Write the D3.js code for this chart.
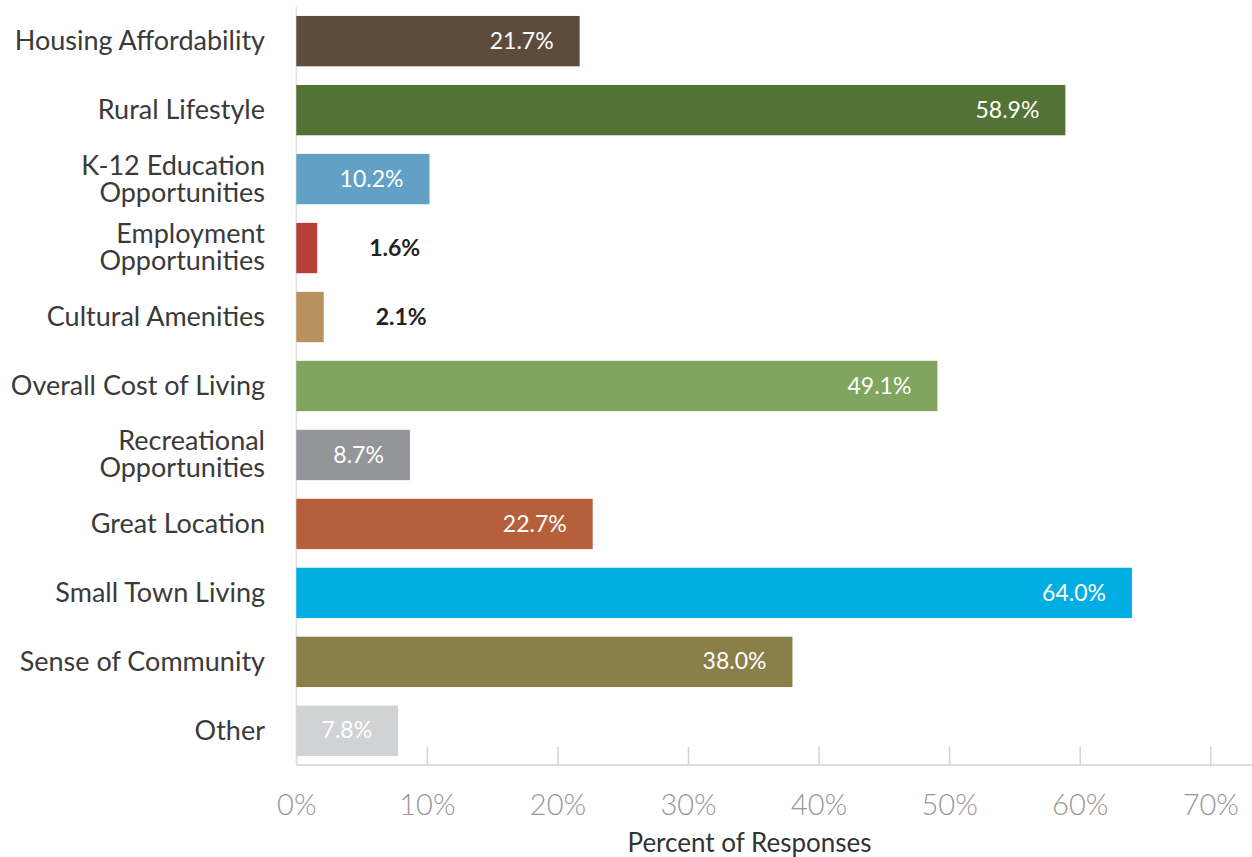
<!DOCTYPE html>
<html>
<head>
<meta charset="utf-8">
<script src="https://cdn.jsdelivr.net/npm/d3@7"></script>
<style>
  html, body { margin: 0; padding: 0; background: #fff; }
  svg { display: block; }
</style>
</head>
<body>
<svg id="chart" width="1252" height="857"></svg>
<script>
const categories = [
  ["Housing Affordability"],
  ["Rural Lifestyle"],
  ["K-12 Education", "Opportunities"],
  ["Employment", "Opportunities"],
  ["Cultural Amenities"],
  ["Overall Cost of Living"],
  ["Recreational", "Opportunities"],
  ["Great Location"],
  ["Small Town Living"],
  ["Sense of Community"],
  ["Other"]
];
const values = [21.7, 58.9, 10.2, 1.6, 2.1, 49.1, 8.7, 22.7, 64.0, 38.0, 7.8];
const colors = ["#5d4b3c", "#527236", "#62a1c5", "#b73f36", "#b8925e", "#7fa55e", "#939598", "#b5603b", "#00aee3", "#8a7f48", "#d1d2d4"];
const xTicks = [0, 10, 20, 30, 40, 50, 60, 70];
const axisTitle = "Percent of Responses";

const svg = d3.select("#chart");
const ids = categories.map((c, i) => i);

const x = d3.scaleLinear().domain([0, 70]).range([296.3, 1210.3]);
const y = d3.scaleBand().domain(ids).range([7, 765]).paddingInner(0.27).paddingOuter(0.13);

const gridColor = "#d6d2d2";

// x axis line
svg.append("line")
  .attr("x1", x(0)).attr("x2", 1252)
  .attr("y1", 765).attr("y2", 765)
  .attr("stroke", gridColor).attr("stroke-width", 1.5);

// ticks
const xAxis = d3.axisBottom(x).tickValues(xTicks).tickSize(0).tickFormat(d => d + "%");
const gx = svg.append("g").attr("transform", "translate(0,765)").call(xAxis);
gx.select(".domain").remove();
gx.selectAll(".tick line").remove();
gx.selectAll(".tick").append("line")
  .attr("y1", -18).attr("y2", 0)
  .attr("stroke", gridColor).attr("stroke-width", 1.5);
gx.selectAll(".tick text")
  .attr("y", 50)
  .attr("dy", 0)
  .attr("font-family", "Lato, sans-serif")
  .attr("font-weight", 300)
  .attr("font-size", 29)
  .attr("fill", "#9b9595");

// y axis line
svg.append("line")
  .attr("x1", x(0)).attr("x2", x(0))
  .attr("y1", 7).attr("y2", 765)
  .attr("stroke", "#e2e0e0").attr("stroke-width", 1.5);

// bars
svg.append("g").selectAll("rect").data(ids).join("rect")
  .attr("x", x(0))
  .attr("y", i => y(i))
  .attr("width", i => x(values[i]) - x(0))
  .attr("height", y.bandwidth())
  .attr("fill", i => colors[i]);

// value labels
svg.append("g").selectAll("text").data(ids).join("text")
  .attr("x", i => values[i] < 5 ? x(values[i]) + 52 : x(values[i]) - 26)
  .attr("y", i => y(i) + y.bandwidth() / 2)
  .attr("dy", "0.33em")
  .attr("text-anchor", i => values[i] < 5 ? "start" : "end")
  .attr("font-family", "Lato, sans-serif")
  .attr("font-size", 23)
  .attr("font-weight", i => values[i] < 5 ? 700 : 400)
  .attr("fill", i => values[i] < 5 ? "#222222" : "#ffffff")
  .text(i => values[i].toFixed(1) + "%");

// category labels
const cl = svg.append("g").selectAll("text").data(ids).join("text")
  .attr("text-anchor", "end")
  .attr("font-family", "Lato, sans-serif")
  .attr("font-size", 27)
  .attr("fill", "#3a3a3a")
  .attr("transform", i => `translate(265,${y(i) + y.bandwidth() / 2})`);
cl.each(function(i) {
  const lines = categories[i];
  const t = d3.select(this);
  const lh = 27;
  lines.forEach((ln, k) => {
    t.append("tspan")
      .attr("x", 0)
      .attr("y", (k - (lines.length - 1) / 2) * lh)
      .attr("dy", "0.33em")
      .text(ln);
  });
});

// axis title
svg.append("text")
  .attr("x", 749.5).attr("y", 852)
  .attr("text-anchor", "middle")
  .attr("font-family", "Lato, sans-serif")
  .attr("font-size", 26)
  .attr("fill", "#333")
  .text(axisTitle);
</script>
</body>
</html>
